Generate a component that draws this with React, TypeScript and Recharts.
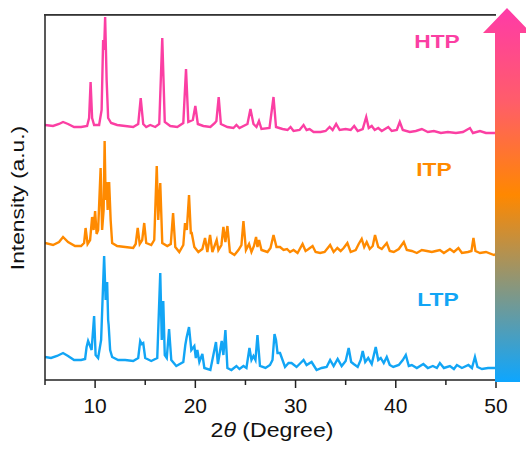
import React from "react";
import { LineChart, Line, XAxis, YAxis } from "recharts";

// [2theta, intensity], already offset for stacking
const htpPattern: [number, number][] = [
  [5.0, 255], [5.8, 254], [6.4, 256], [6.8, 258], [7.3, 256], [7.9, 253], [8.6, 253],
  [9.2, 254], [9.4, 262], [9.55, 298], [9.7, 262], [9.9, 255], [10.4, 255], [10.65, 270],
  [10.8, 340], [10.9, 330], [11.0, 363], [11.15, 300], [11.3, 262], [11.6, 257], [12.2, 255],
  [13.0, 254], [13.8, 253], [14.3, 256], [14.55, 282], [14.8, 256], [15.1, 253], [15.5, 255],
  [16.0, 253], [16.4, 256], [16.7, 342], [16.95, 258], [17.5, 254], [18.2, 253], [18.8, 257],
  [19.07, 311], [19.3, 258], [19.75, 260], [20.0, 274], [20.25, 256], [20.8, 254], [21.5, 253],
  [21.95, 257], [22.1, 259], [22.33, 283], [22.55, 256], [23.2, 253], [23.8, 252], [24.1, 255],
  [24.4, 252], [25.2, 256], [25.5, 271], [25.8, 256], [26.1, 253], [26.35, 259], [26.6, 251],
  [27.4, 252], [27.8, 283], [28.05, 253], [28.7, 251], [29.2, 250], [29.5, 253], [29.8, 249],
  [30.4, 250], [30.8, 255], [31.1, 250], [31.4, 251], [31.8, 248], [32.5, 248], [33.0, 249],
  [33.4, 253], [33.7, 250], [34.05, 256], [34.4, 250], [35.0, 251], [35.5, 250], [35.85, 254],
  [36.2, 249], [36.7, 251], [37.05, 263], [37.3, 252], [37.6, 254], [37.9, 250], [38.25, 252],
  [38.6, 249], [39.25, 253], [39.6, 249], [40.1, 250], [40.4, 258], [40.7, 250], [41.4, 248],
  [42.0, 249], [42.6, 251], [43.2, 248], [43.8, 249], [44.5, 247], [45.2, 248], [46.0, 247],
  [46.7, 248], [47.4, 252], [47.7, 247], [48.4, 249], [49.0, 247], [50.0, 247],
];

const itpPattern: [number, number][] = [
  [5.0, 137], [5.8, 135], [6.4, 138], [6.8, 143], [7.3, 138], [8.0, 134], [8.6, 134],
  [8.9, 137], [9.05, 152], [9.25, 136], [9.5, 140], [9.7, 163], [9.85, 150], [10.0, 169],
  [10.15, 146], [10.3, 150], [10.55, 212], [10.7, 150], [10.85, 170], [10.95, 239], [11.05, 180],
  [11.15, 198], [11.25, 170], [11.4, 198], [11.55, 160], [11.7, 137], [12.2, 134], [13.0, 133],
  [13.8, 132], [14.05, 136], [14.25, 152], [14.45, 136], [14.7, 140], [14.9, 157], [15.1, 137],
  [15.6, 135], [15.9, 140], [16.15, 214], [16.3, 160], [16.5, 197], [16.7, 137], [17.2, 134],
  [17.55, 136], [17.78, 167], [18.0, 133], [18.4, 128], [18.8, 135], [18.97, 157], [19.15, 150],
  [19.37, 185], [19.55, 147], [19.64, 147], [19.9, 133], [20.3, 128], [20.7, 131], [20.97, 142],
  [21.2, 128], [21.47, 145], [21.7, 128], [22.13, 140], [22.3, 130], [22.6, 135], [22.8, 153],
  [23.0, 138], [23.2, 154], [23.45, 128], [23.9, 125], [24.3, 130], [24.6, 135], [24.8, 159],
  [25.05, 130], [25.36, 136], [25.6, 128], [25.85, 134], [26.06, 143], [26.2, 133], [26.36, 140],
  [26.6, 130], [27.2, 128], [27.5, 132], [27.8, 145], [28.1, 133], [28.45, 133], [28.8, 130],
  [29.15, 131], [29.45, 128], [29.8, 130], [30.2, 127], [30.7, 136], [31.0, 129], [31.3, 131],
  [31.7, 134], [32.0, 128], [32.45, 127], [32.9, 128], [33.45, 135], [33.8, 128], [34.17, 132],
  [34.5, 129], [34.8, 132], [35.17, 137], [35.5, 128], [36.0, 130], [36.3, 136], [36.6, 141],
  [36.85, 133], [37.1, 138], [37.4, 131], [37.7, 134], [37.93, 145], [38.25, 133], [38.6, 131],
  [39.1, 137], [39.4, 129], [39.8, 128], [40.3, 131], [40.8, 138], [41.1, 130], [41.6, 129],
  [42.1, 127], [42.6, 130], [43.1, 129], [43.6, 128], [44.0, 129], [44.4, 130], [44.8, 127],
  [45.4, 131], [45.8, 128], [46.25, 132], [46.6, 127], [47.2, 128], [47.55, 129], [47.75, 142],
  [47.95, 129], [48.4, 127], [49.0, 128], [49.8, 125], [50.0, 126],
];

const ltpPattern: [number, number][] = [
  [5.0, 23], [5.6, 22], [6.2, 24], [6.8, 27], [7.3, 24], [7.9, 20], [8.6, 20], [9.0, 21],
  [9.15, 33], [9.3, 39], [9.5, 34], [9.65, 30], [9.9, 64], [10.05, 25], [10.3, 22], [10.6, 40],
  [10.9, 124], [11.05, 80], [11.2, 98], [11.3, 60], [11.35, 55], [11.5, 30], [11.7, 23],
  [12.3, 20], [13.0, 20], [13.8, 19], [14.3, 22], [14.5, 39], [14.65, 36], [14.8, 37],
  [15.0, 22], [15.6, 19], [16.2, 22], [16.5, 107], [16.65, 40], [16.8, 79], [16.95, 25],
  [17.15, 22], [17.38, 51], [17.6, 20], [18.1, 14], [18.8, 18], [19.0, 35], [19.14, 43],
  [19.37, 53], [19.6, 30], [19.9, 34], [20.05, 22], [20.2, 30], [20.4, 18], [20.7, 26],
  [20.9, 12], [21.5, 10], [22.06, 38], [22.25, 16], [22.63, 39], [22.8, 25], [23.0, 50],
  [23.2, 12], [23.6, 10], [24.1, 14], [24.4, 11], [24.8, 14], [25.1, 12], [25.4, 32],
  [25.6, 20], [25.8, 24], [26.0, 20], [26.2, 45], [26.45, 14], [27.0, 12], [27.45, 15],
  [27.7, 20], [27.9, 46], [28.05, 40], [28.2, 27], [28.45, 27], [28.95, 13], [29.3, 17],
  [29.6, 17], [30.1, 13], [30.5, 17], [30.8, 20], [31.1, 15], [31.6, 18], [32.1, 10],
  [32.6, 12], [33.1, 13], [33.45, 20], [33.8, 14], [34.2, 21], [34.6, 14], [35.0, 19],
  [35.3, 32], [35.55, 18], [35.8, 16], [36.2, 13], [36.5, 20], [36.7, 29], [36.95, 18],
  [37.25, 22], [37.6, 16], [38.0, 33], [38.25, 20], [38.5, 22], [38.8, 17], [39.1, 23],
  [39.4, 15], [39.75, 13], [40.3, 15], [40.7, 20], [41.0, 25], [41.3, 14], [41.6, 15],
  [42.1, 12], [42.75, 16], [43.2, 12], [43.7, 14], [44.1, 12], [44.4, 17], [44.8, 12],
  [45.4, 14], [45.8, 11], [46.1, 15], [46.6, 12], [47.25, 15], [47.6, 12], [47.9, 23],
  [48.15, 13], [48.6, 11], [49.2, 12], [50.0, 12],
];

const xTicks = [5, 10, 15, 20, 25, 30, 35, 40, 45, 50];

const PINK = "#fb3fa3";
const ORANGE = "#ff8a00";
const BLUE = "#12a5f5";
const FONT = "'Liberation Sans', Arial, sans-serif";

const toRows = (pts: [number, number][]) => pts.map(([t, v]) => ({ t, v }));

const XTick = (props: any) => {
  const { x, y, payload } = props;
  const major = payload.value % 10 === 0;
  return (
    <g>
      <line x1={x} x2={x} y1={y} y2={y + (major ? 8 : 5)} stroke="#222" strokeWidth={1.5} />
      {major && (
        <text x={x} y={y + 33} textAnchor="middle" fontSize={21} fontFamily={FONT} fill="#111">
          {payload.value}
        </text>
      )}
    </g>
  );
};

const Stretch = ({ x, y, sx = 1, rot = 0, children, ...rest }: any) => (
  <text
    transform={`translate(${x},${y}) rotate(${rot}) scale(${sx},1)`}
    textAnchor="middle"
    fontFamily={FONT}
    {...rest}
  >
    {children}
  </text>
);

export default function App() {
  return (
    <div style={{ position: "absolute", left: 0, top: 0, width: 526, height: 450, background: "#fff" }}>
      <LineChart width={526} height={450} margin={{ top: 15, right: 30, left: 5, bottom: 40 }}>
        <XAxis
          dataKey="t"
          type="number"
          domain={[5, 50]}
          ticks={xTicks}
          allowDataOverflow
          tickSize={0}
          tickMargin={0}
          tick={<XTick />}
          height={30}
          axisLine={{ stroke: "#222", strokeWidth: 1.5 }}
        />
        <YAxis
          type="number"
          domain={[0, 365]}
          allowDataOverflow
          width={40}
          tick={false}
          tickLine={false}
          axisLine={{ stroke: "#222", strokeWidth: 1.5 }}
        />
        <Line data={toRows(htpPattern)} dataKey="v" type="linear" stroke={PINK} strokeWidth={2.4} dot={false} isAnimationActive={false} />
        <Line data={toRows(itpPattern)} dataKey="v" type="linear" stroke={ORANGE} strokeWidth={2.4} dot={false} isAnimationActive={false} />
        <Line data={toRows(ltpPattern)} dataKey="v" type="linear" stroke={BLUE} strokeWidth={2.4} dot={false} isAnimationActive={false} />
      </LineChart>
      <svg width={526} height={450} style={{ position: "absolute", left: 0, top: 0, pointerEvents: "none" }}>
        <defs>
          <linearGradient id="arrowGrad" x1="0" y1="0" x2="0" y2="1">
            <stop offset="0%" stopColor="#ff3aa8" />
            <stop offset="25%" stopColor="#ff5d6a" />
            <stop offset="50%" stopColor="#ff8800" />
            <stop offset="100%" stopColor="#0da6ff" />
          </linearGradient>
        </defs>
        {/* top frame */}
        <rect x={44} y={14} width={452} height={1.8} fill="#333" />
        <path d="M495,33 L483,33 L507,8 L531,33 L520,33 L520,382 L495,382 Z" fill="url(#arrowGrad)" />
        <Stretch x={437} y={48} sx={1.2} fontSize={19} fontWeight="bold" fill={PINK}>HTP</Stretch>
        <Stretch x={434} y={176} sx={1.2} fontSize={19} fontWeight="bold" fill={ORANGE}>ITP</Stretch>
        <Stretch x={438} y={306} sx={1.2} fontSize={19} fontWeight="bold" fill={BLUE}>LTP</Stretch>
        <Stretch x={24} y={198} rot={-90} sx={1.2} fontSize={19} fill="#111">Intensity (a.u.)</Stretch>
        <Stretch x={272} y={437} sx={1.1} fontSize={21} fill="#111">
          2<tspan fontStyle="italic">θ</tspan> (Degree)
        </Stretch>
      </svg>
    </div>
  );
}
